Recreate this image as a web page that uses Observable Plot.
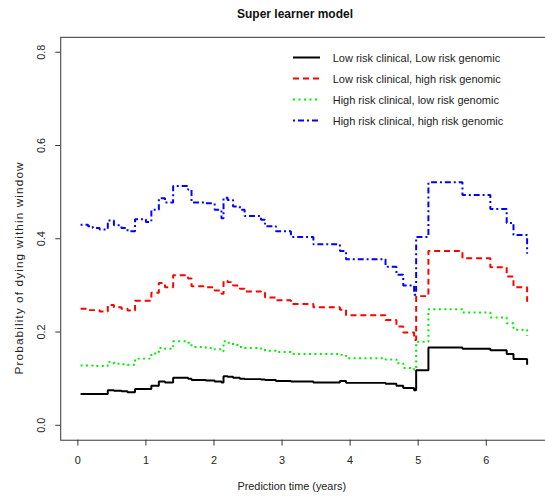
<!DOCTYPE html>
<html>
<head>
<meta charset="utf-8">
<script src="https://cdn.jsdelivr.net/npm/d3@7"></script>
<script src="https://cdn.jsdelivr.net/npm/@observablehq/plot@0.6"></script>
<style>
html, body { margin: 0; padding: 0; background: #fff; overflow: hidden; }
body { font-family: "Liberation Sans", Arial, Helvetica, sans-serif; color: #222; }
#wrap { position: relative; width: 545px; height: 500px; overflow: hidden; }
#title { height: 30px; box-sizing: border-box; padding-top: 7px; padding-left: 45px; width: 545px;
  text-align: center; font-size: 12px; line-height: 14px; font-weight: bold; color: #111; }
#legend { position: absolute; left: 293px; top: 47px; }
.row { height: 21px; display: flex; align-items: center; }
.row span { margin-left: 12.7px; font-size: 11px; color: #222; white-space: nowrap; }
</style>
</head>
<body>
<div id="wrap">
  <div id="title">Super learner model</div>
  <div id="chart"></div>
  <div id="legend"></div>
</div>
<script>
// Prediction times (years) at which the step curves change
const times = [0.04, 0.15, 0.22, 0.32, 0.44, 0.53, 0.64, 0.73, 0.84, 1.00, 1.08, 1.19, 1.28, 1.40,
  1.62, 1.67, 1.88, 2.01, 2.11, 2.14, 2.20, 2.28, 2.38, 2.45, 2.69, 2.75, 2.91, 3.13, 3.46, 3.85,
  3.94, 4.52, 4.68, 4.78, 4.94, 4.97, 5.15, 5.65, 6.06, 6.30, 6.40, 6.60];

const lowLow = [0.067, 0.067, 0.067, 0.067, 0.075, 0.074, 0.073, 0.071, 0.078, 0.078, 0.085, 0.094, 0.092, 0.102,
  0.100, 0.097, 0.096, 0.094, 0.092, 0.105, 0.104, 0.102, 0.100, 0.099, 0.098, 0.097, 0.095, 0.094, 0.092, 0.095,
  0.091, 0.089, 0.085, 0.080, 0.075, 0.118, 0.167, 0.164, 0.161, 0.153, 0.142, 0.130];

const lowHigh = [0.250, 0.247, 0.247, 0.244, 0.258, 0.253, 0.250, 0.246, 0.267, 0.267, 0.284, 0.305, 0.296, 0.322,
  0.315, 0.298, 0.296, 0.289, 0.282, 0.310, 0.307, 0.300, 0.293, 0.287, 0.284, 0.274, 0.268, 0.260, 0.253, 0.248,
  0.236, 0.226, 0.212, 0.199, 0.183, 0.277, 0.374, 0.358, 0.339, 0.319, 0.296, 0.265];

const highLow = [0.128, 0.128, 0.127, 0.127, 0.136, 0.132, 0.131, 0.130, 0.143, 0.143, 0.154, 0.166, 0.164, 0.180,
  0.177, 0.168, 0.166, 0.163, 0.159, 0.180, 0.177, 0.172, 0.168, 0.166, 0.164, 0.160, 0.157, 0.153, 0.153, 0.151,
  0.144, 0.141, 0.133, 0.123, 0.119, 0.179, 0.249, 0.242, 0.231, 0.219, 0.205, 0.192];

const highHigh = [0.430, 0.427, 0.423, 0.420, 0.439, 0.429, 0.423, 0.416, 0.442, 0.436, 0.462, 0.487, 0.478, 0.513,
  0.505, 0.478, 0.476, 0.462, 0.444, 0.488, 0.483, 0.469, 0.462, 0.449, 0.441, 0.427, 0.416, 0.404, 0.388, 0.374,
  0.356, 0.340, 0.323, 0.300, 0.280, 0.404, 0.521, 0.494, 0.464, 0.434, 0.408, 0.368];

const seriesNames = [
  "Low risk clinical, Low risk genomic",
  "Low risk clinical, high risk genomic",
  "High risk clinical, low risk genomic",
  "High risk clinical, high risk genomic"
];
const seriesValues = [lowLow, lowHigh, highLow, highHigh];
const colors = ["#000000", "#ff0000", "#00ee00", "#0000ff"];
const dashes = [null, "6,4", "2,3.5", "2,3,6,3"];

const xTicks = [0, 1, 2, 3, 4, 5, 6];
const yTicks = [0.0, 0.2, 0.4, 0.6, 0.8];
const xLabel = "Prediction time (years)";
const yLabel = "Probability of dying within window";

const rows = seriesNames.flatMap((name, i) =>
  times.map((t, j) => ({series: name, idx: i, t, p: seriesValues[i][j]})));

const font = "Liberation Sans, Arial, Helvetica, sans-serif";

const chart = Plot.plot({
  width: 552,
  height: 470,
  marginLeft: 61,
  marginRight: 0,
  marginTop: 6.9,
  marginBottom: 55,
  style: {fontFamily: font, background: "#fff", overflow: "visible"},
  x: {domain: [-0.2515, 6.87], axis: null},
  y: {domain: [-0.032, 0.832], axis: null},
  marks: [
    Plot.axisX({ticks: xTicks, tickSize: 6, tickPadding: 10.7, fontSize: 11, color: "#222", stroke: "#333", label: null}),
    Plot.axisY({ticks: yTicks, tickSize: 5, tickFormat: () => "", stroke: "#333", label: null}),
    Plot.text(yTicks, {y: d => d, text: d => d.toFixed(1), frameAnchor: "left", dx: -19.3,
      rotate: -90, textAnchor: "middle", lineAnchor: "middle", fontSize: 11, fill: "#222"}),
    ...seriesNames.map((name, i) =>
      Plot.line(rows.filter(d => d.idx === i), {
        x: "t", y: "p", curve: "step-after", stroke: colors[i], strokeWidth: 2,
        strokeDasharray: dashes[i], strokeLinecap: "butt", strokeLinejoin: "miter"
      })),
    Plot.frame({stroke: "#333", strokeWidth: 1}),
    Plot.text([xLabel], {text: d => d, frameAnchor: "bottom", dx: -11.5, dy: 46.9,
      lineAnchor: "middle", fontSize: 11, fill: "#222"}),
    Plot.text([yLabel], {text: d => d, frameAnchor: "left", dx: -42, dy: 29.5, rotate: -90,
      lineAnchor: "middle", textAnchor: "middle", fontSize: 12, fill: "#222"})
  ]
});
// the reference's rotated axis title is drawn slightly letter-spaced
d3.select(chart).selectAll("text").filter(function() { return this.textContent === yLabel; })
  .style("letter-spacing", "1.1px");
document.getElementById("chart").appendChild(chart);

const legend = document.getElementById("legend");
seriesNames.forEach((name, i) => {
  const row = document.createElement("div");
  row.className = "row";
  const dash = dashes[i] ? ` stroke-dasharray="${dashes[i]}"` : "";
  row.innerHTML = `<svg width="27" height="21"><line x1="0" x2="27" y1="10.5" y2="10.5" stroke="${colors[i]}" stroke-width="2"${dash}/></svg><span>${name}</span>`;
  legend.appendChild(row);
});
</script>
</body>
</html>
